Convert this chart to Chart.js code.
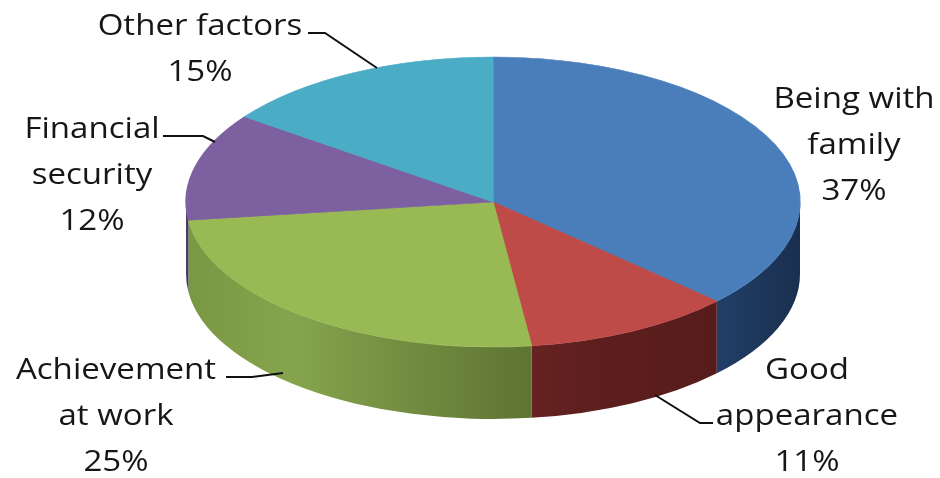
<!DOCTYPE html>
<html lang="en">
<head>
  <meta charset="utf-8">
  <title>Pie 3D</title>
  <script src="https://cdn.jsdelivr.net/npm/chart.js"></script>
  <style>
    body { margin: 0; background: #fff; }
  </style>
</head>
<body>
  <canvas id="grafica" width="940" height="478"></canvas>
<script>
  // data
  const categories = ['Being with family', 'Good appearance', 'Achievement at work', 'Financial security', 'Other factors'];
  const values = [37, 11, 25, 12, 15];
  const labelLines = [['Being with', 'family'], ['Good', 'appearance'], ['Achievement', 'at work'], ['Financial', 'security'], ['Other factors']];

  // styles
  const topColors = ['#4a7ebb', '#be4b48', '#98b954', '#7d60a0', '#4aacc5'];
  const sideColors = [
    ['#223f69', '#1f3a60', '#1a2f4f'],
    ['#652220', '#5e1f1e', '#561c1b'],
    ['#7a9844', '#86a44d', '#5e7433'],
    ['#4f3d66', '#4a3a60', '#42345a'],
    ['#2e6f80', '#2b6878', '#265d6c']
  ];

  // ellipse geometry of the tilted pie
  const CX = 493, CY = 202, RX = 307, RY = 145, DEPTH = 72;

  const pie3d = {
    id: 'pie3d',
    beforeDatasetsDraw(chart) {
      const ctx = chart.ctx;
      const arcs = chart.getDatasetMeta(0).data;
      // side walls (only the front half is visible)
      arcs.forEach((arc, i) => {
        const a = Math.max(arc.startAngle, 0);
        const b = Math.min(arc.endAngle, Math.PI);
        if (a >= b) return;
        const left = CX + RX * Math.cos(b), right = CX + RX * Math.cos(a);
        const g = ctx.createLinearGradient(left, 0, right, 0);
        g.addColorStop(0, sideColors[i][0]);
        g.addColorStop(0.3, sideColors[i][1]);
        g.addColorStop(1, sideColors[i][2]);
        ctx.beginPath();
        ctx.ellipse(CX, CY, RX, RY, 0, a, b);
        ctx.ellipse(CX, CY + DEPTH, RX, RY, 0, b, a, true);
        ctx.closePath();
        ctx.fillStyle = g;
        ctx.fill();
      });
      // squash the library's circle into the top face
      const {x, y, outerRadius} = arcs[0];
      ctx.save();
      ctx.translate(CX, CY);
      ctx.scale(RX / outerRadius, RY / outerRadius);
      ctx.translate(-x, -y);
    },
    afterDatasetsDraw(chart) {
      chart.ctx.restore();
    }
  };

  // labels with leader lines
  const labelPos = [
    {x: 854, y: 108, line: null},
    {x: 807, y: 379, line: [[713, 423], [700, 423], [655, 395]]},
    {x: 116, y: 379, line: [[226, 377], [252, 377], [283, 373]]},
    {x: 92, y: 138, line: [[163, 136], [203, 136], [215, 142]]},
    {x: 200, y: 35, line: [[308, 33], [325, 33], [377, 68]]}
  ];

  const pieLabels = {
    id: 'pieLabels',
    afterDraw(chart) {
      const ctx = chart.ctx;
      ctx.save();
      ctx.strokeStyle = '#111';
      ctx.lineWidth = 2;
      labelPos.forEach(p => {
        if (!p.line) return;
        ctx.beginPath();
        ctx.moveTo(p.line[0][0], p.line[0][1]);
        for (let k = 1; k < p.line.length; k++) ctx.lineTo(p.line[k][0], p.line[k][1]);
        ctx.stroke();
      });
      ctx.fillStyle = '#161616';
      ctx.font = '29px "Open Sans"';
      ctx.textAlign = 'center';
      ctx.textBaseline = 'alphabetic';
      labelPos.forEach((p, i) => {
        const lines = labelLines[i].concat([values[i] + '%']);
        lines.forEach((t, k) => {
          ctx.save();
          ctx.translate(p.x, p.y + k * 46);
          ctx.scale(1.14, 1);
          ctx.fillText(t, 0, 0);
          ctx.restore();
        });
      });
      ctx.restore();
    }
  };

  const config = {
    type: 'pie',
    data: {
      labels: categories,
      datasets: [{
        data: values,
        backgroundColor: topColors,
        borderColor: topColors,
        borderWidth: 1,
        clip: false
      }]
    },
    options: {
      responsive: false,
      animation: false,
      events: [],
      plugins: {
        legend: { display: false },
        tooltip: { enabled: false }
      }
    },
    plugins: [pie3d, pieLabels]
  };

  const myChart = new Chart(document.getElementById('grafica'), config);
</script>
</body>
</html>
